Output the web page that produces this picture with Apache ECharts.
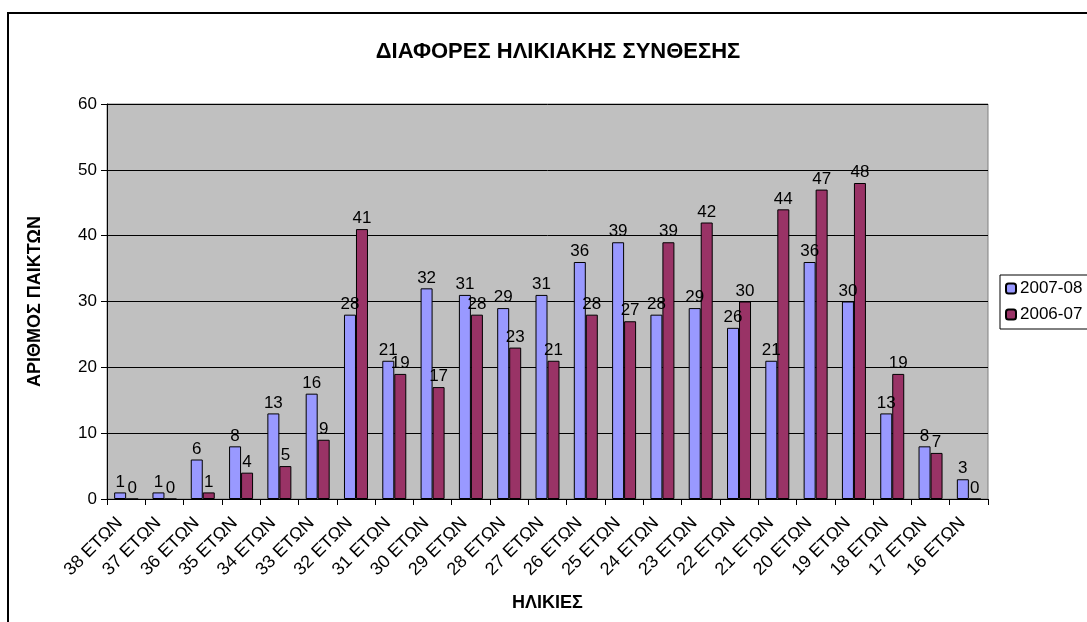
<!DOCTYPE html>
<html>
<head>
<meta charset="utf-8">
<script src="https://cdn.jsdelivr.net/npm/echarts@6/dist/echarts.min.js"></script>
<style>
 html, body { margin: 0; padding: 0; background: #fff; }
 #main { width: 1087px; height: 622px; }
</style>
</head>
<body>
<div id="main"></div>
<script>
 // ηλικίες (κατηγορίες)
 var categories = ['38 ΕΤΩΝ', '37 ΕΤΩΝ', '36 ΕΤΩΝ', '35 ΕΤΩΝ', '34 ΕΤΩΝ', '33 ΕΤΩΝ', '32 ΕΤΩΝ', '31 ΕΤΩΝ',
  '30 ΕΤΩΝ', '29 ΕΤΩΝ', '28 ΕΤΩΝ', '27 ΕΤΩΝ', '26 ΕΤΩΝ', '25 ΕΤΩΝ', '24 ΕΤΩΝ', '23 ΕΤΩΝ',
  '22 ΕΤΩΝ', '21 ΕΤΩΝ', '20 ΕΤΩΝ', '19 ΕΤΩΝ', '18 ΕΤΩΝ', '17 ΕΤΩΝ', '16 ΕΤΩΝ'];
 var season0708 = [1, 1, 6, 8, 13, 16, 28, 21, 32, 31, 29, 31, 36, 39, 28, 29, 26, 21, 36, 30, 13, 8, 3];
 var season0607 = [0, 0, 1, 4, 5, 9, 41, 19, 17, 28, 23, 21, 28, 27, 39, 42, 30, 44, 47, 48, 19, 7, 0];
 var seriesNames = ['2007-08', '2006-07'];
 var yTicks = { min: 0, max: 60, interval: 10 };

 var font = 'Arial, "Liberation Sans", sans-serif';
 var myChart = echarts.init(document.getElementById('main'));

 var labelStyle = {
  show: true,
  position: 'top',
  distance: 2,
  color: '#000',
  fontFamily: font,
  fontSize: 17
 };

 var option = {
  animation: false,
  backgroundColor: '#fff',
  title: {
   text: 'ΔΙΑΦΟΡΕΣ ΗΛΙΚΙΑΚΗΣ ΣΥΝΘΕΣΗΣ',
   left: 553,
   top: 36,
   textAlign: 'center',
   textStyle: { fontFamily: font, fontSize: 22, fontWeight: 'bold', color: '#000' }
  },
  // εξωτερικό πλαίσιο
  graphic: [{
   type: 'rect',
   shape: { x: 8, y: 13, width: 1200, height: 700 },
   style: { fill: 'none', stroke: '#000', lineWidth: 2 }
  }],
  legend: {
   orient: 'vertical',
   left: 1000,
   top: 275,
   padding: [5, 8, 6, 5],
   itemGap: 9,
   itemWidth: 10,
   itemHeight: 10,
   borderColor: '#000',
   borderWidth: 1,
   data: seriesNames,
   textStyle: { fontFamily: font, fontSize: 17, color: '#000', padding: [0, 0, 0, -1] }
  },
  grid: {
   left: 107,
   right: 99,
   top: 104,
   bottom: 123,
   show: true,
   backgroundColor: '#C0C0C0',
   borderColor: '#808080',
   borderWidth: 1
  },
  xAxis: {
   type: 'category',
   data: categories,
   name: 'ΗΛΙΚΙΕΣ',
   nameLocation: 'middle',
   nameGap: 95,
   nameTextStyle: { fontFamily: font, fontSize: 18, fontWeight: 'bold', color: '#000' },
   axisLine: { lineStyle: { color: '#000', width: 1 } },
   axisTick: { show: true, length: 6, lineStyle: { color: '#000' } },
   axisLabel: {
    rotate: 45, interval: 0, margin: 15, padding: [0, 9, 0, 0],
    fontFamily: font, fontSize: 18, color: '#000'
   }
  },
  yAxis: {
   type: 'value',
   min: yTicks.min,
   max: yTicks.max,
   interval: yTicks.interval,
   name: 'ΑΡΙΘΜΟΣ ΠΑΙΚΤΩΝ',
   nameLocation: 'middle',
   nameGap: 63,
   nameTextStyle: { fontFamily: font, fontSize: 18, fontWeight: 'bold', color: '#000' },
   axisLine: { show: true, lineStyle: { color: '#000', width: 1 } },
   axisTick: { show: true, length: 6, lineStyle: { color: '#000' } },
   axisLabel: { margin: 10, fontFamily: font, fontSize: 17, color: '#000' },
   splitLine: { show: true, lineStyle: { color: '#000', width: 1 } }
  },
  series: [{
   name: seriesNames[0],
   type: 'bar',
   data: season0708,
   barWidth: 12,
   barGap: '0%',
   itemStyle: { color: '#9999FF', borderColor: '#000', borderWidth: 1 },
   label: labelStyle
  }, {
   name: seriesNames[1],
   type: 'bar',
   data: season0607,
   barWidth: 12,
   itemStyle: { color: '#993366', borderColor: '#000', borderWidth: 1 },
   label: labelStyle
  }]
 };

 myChart.setOption(option);
</script>
</body>
</html>
